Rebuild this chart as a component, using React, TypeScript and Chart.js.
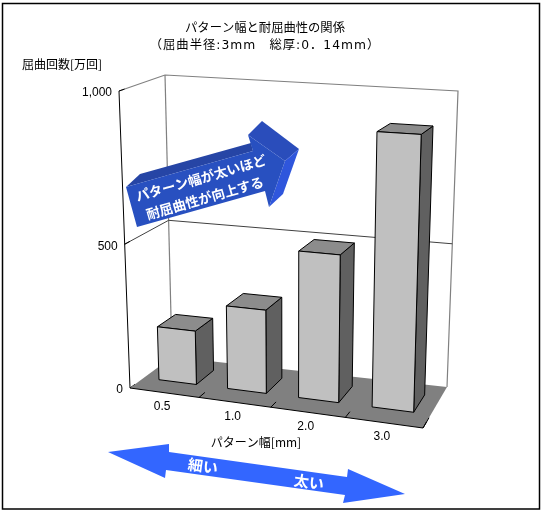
import { useEffect, useRef } from "react";
import { Chart, registerables } from "chart.js";

Chart.register(...registerables);

const categories = ["0.5", "1.0", "2.0", "3.0"];
const cycles = [190, 290, 500, 900];
const yTicks = [0, 500, 1000];

const FONT = '"Noto Sans CJK JP", "Noto Sans", sans-serif';
const TITLE_FONT = '"DejaVu Sans", "Noto Sans CJK JP", sans-serif';
const NUM_FONT = '"Liberation Sans", sans-serif';

type Pt = [number, number];

// corners of the picture's box, order: floor-left, floor-right, top-right, top-left
const FRONT: Pt[] = [[130, 388], [423, 428], [432, 108], [119, 91]];
const BACK: Pt[] = [[172, 357], [447, 387], [458, 91], [165, 75]];
const BAR_W0 = 0.33;
const BAR_W1 = 0.76;

function quad(p: Pt[]) {
  const [[x0, y0], [x1, y1], [x2, y2], [x3, y3]] = p;
  const dx1 = x1 - x2, dx2 = x3 - x2, sx = x0 - x1 + x2 - x3;
  const dy1 = y1 - y2, dy2 = y3 - y2, sy = y0 - y1 + y2 - y3;
  const den = dx1 * dy2 - dx2 * dy1;
  const g = (sx * dy2 - dx2 * sy) / den;
  const h = (dx1 * sy - sx * dy1) / den;
  const a = x1 - x0 + g * x1, b = x3 - x0 + h * x3;
  const d = y1 - y0 + g * y1, e = y3 - y0 + h * y3;
  return (u: number, v: number): Pt => {
    const q = g * u + h * v + 1;
    return [(a * u + b * v + x0) / q, (d * u + e * v + y0) / q];
  };
}

const frontMap = quad(FRONT);
const backMap = quad(BACK);

function project(u: number, v: number, w: number): Pt {
  const f = frontMap(u, v);
  const b = backMap(u, v);
  return [f[0] + (b[0] - f[0]) * w, f[1] + (b[1] - f[1]) * w];
}

function poly(ctx: CanvasRenderingContext2D, pts: Pt[], fill?: string, stroke?: string, lw = 1) {
  ctx.beginPath();
  pts.forEach((p, i) => (i ? ctx.lineTo(p[0], p[1]) : ctx.moveTo(p[0], p[1])));
  if (fill) {
    ctx.closePath();
    ctx.fillStyle = fill;
    ctx.fill();
  }
  if (stroke) {
    ctx.strokeStyle = stroke;
    ctx.lineWidth = lw;
    ctx.stroke();
  }
}

function label(ctx: CanvasRenderingContext2D, s: string, x: number, y: number, font: string, color = "#000", align: CanvasTextAlign = "center", angle = 0, spacing = 0) {
  ctx.save();
  ctx.translate(x, y);
  ctx.rotate((angle * Math.PI) / 180);
  ctx.font = font;
  (ctx as any).letterSpacing = `${spacing}px`;
  ctx.fillStyle = color;
  ctx.textAlign = align;
  ctx.textBaseline = "middle";
  ctx.fillText(s, 0, 0);
  ctx.restore();
}

const box3d = {
  id: "box3d",
  beforeDatasetsDraw(chart: any) {
    const ctx = chart.ctx as CanvasRenderingContext2D;
    const { left, right, top, bottom } = chart.chartArea;
    const uOf = (x: number) => (x - left) / (right - left);
    const vOf = (y: number) => (bottom - y) / (bottom - top);

    ctx.save();
    // outer frame
    ctx.strokeStyle = "#000";
    ctx.lineWidth = 1.5;
    ctx.strokeRect(2.5, 3.5, 537, 505.5);

    // titles
    label(ctx, "パターン幅と耐屈曲性の関係", 265, 29, `12.3px ${TITLE_FONT}`);
    label(ctx, "（屈曲半径:3mm　総厚:0．14mm）", 265, 46, `12.3px ${TITLE_FONT}`, "#000", "center", 0, 1);

    // walls
    const grey = "#808080";
    poly(ctx, [project(0, 1, 0), project(0, 1, 1), project(1, 1, 1), project(1, 0, 1)], undefined, grey, 1.2);
    poly(ctx, [project(0, 1, 1), project(0, 0, 1)], undefined, grey, 1.2);
    const yScale = chart.scales.y;
    yTicks.forEach((t) => {
      const v = vOf(yScale.getPixelForValue(t));
      if (t > 0 && t < 1000) {
        poly(ctx, [project(0, v, 0), project(0, v, 1), project(1, v, 1)], undefined, "#404040", 1);
      }
      const s = t.toLocaleString("en-US");
      const p = project(0, v, 0);
      label(ctx, s, p[0] - 7, p[1] + 2, `12px ${NUM_FONT}`, "#000", "right");
      poly(ctx, [p, project(0, v, 0.12)], undefined, "#000", 1);
    });

    // floor
    poly(ctx, [project(0, 0, 0), project(1, 0, 0), project(1, 0, 1), project(0, 0, 1)], grey);
    poly(ctx, [project(0, 1, 0), project(0, 0, 0), project(1, 0, 0), project(1, 0, 0.25)], undefined, "#000", 1);

    // category ticks and labels
    const meta = chart.getDatasetMeta(0);
    const xScale = chart.scales.x;
    const step = (right - left) / categories.length;
    categories.forEach((c, i) => {
      const uEnd = uOf(xScale.getPixelForValue(i) + step / 2);
      poly(ctx, [project(uEnd, 0, 0), project(uEnd, 0, 0.15)], undefined, "#000", 1);
      const p = project(uOf(xScale.getPixelForValue(i)), 0, 0);
      label(ctx, c, p[0] - 2, p[1] + 14, `12px ${NUM_FONT}`);
    });

    // bars from the chart's own elements
    meta.data.forEach((bar: any) => {
      const u0 = uOf(bar.x - bar.width / 2);
      const u1 = uOf(bar.x + bar.width / 2);
      const v = vOf(bar.y);
      const b = vOf(bar.base);
      poly(ctx, [project(u1, b, BAR_W0), project(u1, v, BAR_W0), project(u1, v, BAR_W1), project(u1, b, BAR_W1)], "#606060", "#000", 1);
      poly(ctx, [project(u0, v, BAR_W0), project(u1, v, BAR_W0), project(u1, v, BAR_W1), project(u0, v, BAR_W1)], "#8c8c8c", "#000", 1);
      poly(ctx, [project(u0, b, BAR_W0), project(u1, b, BAR_W0), project(u1, v, BAR_W0), project(u0, v, BAR_W0)], "#c0c0c0", "#000", 1);
    });

    // axis names
    label(ctx, "屈曲回数[万回]", 22, 64, `12px ${FONT}`, "#000", "left");
    label(ctx, "パターン幅[mm]", 256, 442, `12px ${FONT}`);

    // upper blue arrow
    poly(ctx, [[126, 187], [140, 174], [251, 143], [253, 151]], "#2645a5");
    poly(ctx, [[248, 135], [262, 121], [299, 149], [285, 161]], "#2a4dbb");
    poly(ctx, [[285, 161], [299, 149], [283, 194], [269, 207]], "#2f56dc");
    poly(ctx, [[126, 187], [137, 227], [265, 191], [269, 207], [285, 161], [248, 135], [253, 151]], "#2850c0");
    label(ctx, "パターン幅が太いほど", 201, 178, `bold 13.5px ${FONT}`, "#fff", "center", -16);
    label(ctx, "耐屈曲性が向上する", 205, 198, `bold 13.5px ${FONT}`, "#fff", "center", -16);

    // lower double arrow
    poly(ctx, [[108, 452], [169, 444], [169, 452], [347, 477], [348, 469], [405, 494], [343, 503], [345, 495], [166, 470], [165, 478]], "#3366ff");
    label(ctx, "細い", 203, 466, `bold 15px ${FONT}`, "#fff", "center", 8);
    label(ctx, "太い", 309, 482, `bold 15px ${FONT}`, "#fff", "center", 8);
    ctx.restore();
  },
};

export default function App() {
  const canvasRef = useRef<HTMLCanvasElement | null>(null);

  useEffect(() => {
    if (!canvasRef.current) return;
    const chart = new Chart(canvasRef.current, {
      type: "bar",
      data: {
        labels: categories,
        datasets: [
          {
            data: cycles,
            backgroundColor: "transparent",
            categoryPercentage: 1,
            barPercentage: 0.55,
          },
        ],
      },
      options: {
        responsive: false,
        animation: false,
        layout: { padding: { left: 130, right: 119, top: 91, bottom: 127 } },
        scales: {
          x: { display: false },
          y: { display: false, min: 0, max: 1000, ticks: { stepSize: 500 } },
        },
        plugins: {
          legend: { display: false },
          tooltip: { enabled: false },
        },
      },
      plugins: [box3d],
    });
    return () => chart.destroy();
  }, []);

  return (
    <div style={{ position: "absolute", left: 0, top: 0, width: 542, height: 515 }}>
      <canvas ref={canvasRef} width={542} height={515} style={{ display: "block" }} />
    </div>
  );
}
